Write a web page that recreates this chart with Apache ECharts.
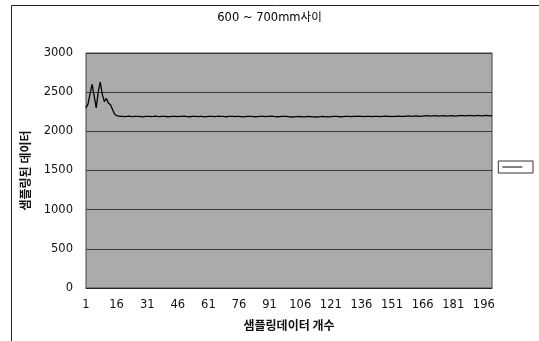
<!DOCTYPE html>
<html>
<head>
<meta charset="utf-8">
<script src="https://cdn.jsdelivr.net/npm/echarts@6/dist/echarts.min.js"></script>
<style>
  html, body { margin: 0; padding: 0; background: #fff; }
  #chart { width: 539px; height: 341px; }
</style>
</head>
<body>
<div id="chart"></div>
<script>
// sample numbers 1..200 on the x axis
const xCats = [];
for (let i = 1; i <= 200; i++) xCats.push(String(i));

const headValues = [2300, 2350, 2480, 2600, 2450, 2300, 2500, 2630, 2470, 2380,
  2420, 2360, 2340, 2280, 2220, 2200];
const tailValues = [
  2195, 2190, 2192, 2188, 2190, 2195, 2190, 2188, 2192, 2190,
  2190, 2188, 2185, 2190, 2192, 2190, 2188, 2190, 2195, 2190,
  2188, 2190, 2192, 2190, 2186, 2188, 2190, 2192, 2190, 2188,
  2190, 2192, 2195, 2190, 2188, 2186, 2190, 2192, 2190, 2188,
  2190, 2190, 2185, 2188, 2190, 2192, 2190, 2188, 2190, 2195,
  2192, 2190, 2188, 2186, 2190, 2192, 2190, 2188, 2190, 2190,
  2188, 2185, 2188, 2190, 2192, 2190, 2188, 2186, 2188, 2190,
  2192, 2190, 2188, 2190, 2192, 2195, 2190, 2188, 2186, 2188,
  2190, 2192, 2190, 2188, 2185, 2183, 2185, 2188, 2190, 2188,
  2186, 2185, 2188, 2190, 2188, 2186, 2185, 2183, 2185, 2188,
  2190, 2188, 2186, 2185, 2188, 2190, 2192, 2190, 2188, 2186,
  2188, 2190, 2192, 2190, 2188, 2190, 2192, 2195, 2192, 2190,
  2188, 2190, 2192, 2190, 2188, 2190, 2192, 2190, 2188, 2190,
  2192, 2195, 2192, 2190, 2188, 2190, 2192, 2195, 2192, 2190,
  2192, 2195, 2198, 2195, 2192, 2195, 2198, 2195, 2192, 2195,
  2198, 2200, 2198, 2195, 2198, 2200, 2198, 2195, 2198, 2200,
  2198, 2195, 2198, 2200, 2198, 2195, 2198, 2200, 2202, 2200,
  2198, 2200, 2202, 2200, 2198, 2200, 2202, 2200, 2198, 2200,
  2202, 2200, 2198, 2200];
const values = headValues.concat(tailValues);

const yTicks = [0, 500, 1000, 1500, 2000, 2500, 3000];

const font = '"DejaVu Sans", "Noto Sans CJK KR", sans-serif';
const krFont = '"Noto Sans CJK KR", sans-serif';

var myChart = echarts.init(document.getElementById('chart'), null, { renderer: 'canvas' });

myChart.setOption({
  animation: false,
  backgroundColor: '#fff',
  title: {
    text: '600 ~ 700mm사이',
    left: 'center',
    top: 7,
    textStyle: { fontFamily: font, fontSize: 11.5, fontWeight: 'normal', color: '#000' }
  },
  legend: {
    right: 6,
    top: 161,
    data: [' '],
    itemWidth: 20,
    itemHeight: 8,
    itemGap: 2,
    padding: [3, 4],
    borderColor: '#333',
    borderWidth: 1,
    textStyle: { fontSize: 6 },
    icon: 'path://M0,4 L20,4 L20,5 L0,5 Z'
  },
  grid: {
    left: 86,
    right: 47,
    top: 53,
    bottom: 53,
    show: true,
    backgroundColor: '#ababab',
    borderColor: '#444',
    borderWidth: 1
  },
  xAxis: {
    type: 'category',
    data: xCats,
    boundaryGap: false,
    name: '샘플링데이터 개수',
    nameLocation: 'middle',
    nameGap: 31,
    nameTextStyle: { fontFamily: krFont, fontSize: 12, fontWeight: 'bold', color: '#111' },
    axisLine: { lineStyle: { color: '#222' } },
    axisTick: { show: false },
    axisLabel: { interval: 14, fontFamily: font, fontSize: 11.5, color: '#111', margin: 11 },
    splitLine: { show: false }
  },
  yAxis: {
    type: 'value',
    min: yTicks[0],
    max: yTicks[yTicks.length - 1],
    interval: 500,
    name: '샘플링된 데이터',
    nameLocation: 'middle',
    nameGap: 55,
    nameTextStyle: { fontFamily: krFont, fontSize: 12, fontWeight: 'bold', color: '#111' },
    axisLine: { show: false },
    axisTick: { show: false },
    axisLabel: { fontFamily: font, fontSize: 11.5, color: '#111', margin: 13,
      formatter: v => String(v) },
    splitLine: { show: true, lineStyle: { color: '#3a3a3a', width: 1 } }
  },
  series: [{
    name: ' ',
    type: 'line',
    data: values,
    showSymbol: false,
    lineStyle: { color: '#000', width: 1.3 },
    itemStyle: { color: '#000' }
  }],
  graphic: [{
    type: 'rect',
    shape: { x: 11.5, y: 5.5, width: 540, height: 340 },
    style: { fill: 'none', stroke: '#222', lineWidth: 1 },
    silent: true
  }]
});
</script>
</body>
</html>
